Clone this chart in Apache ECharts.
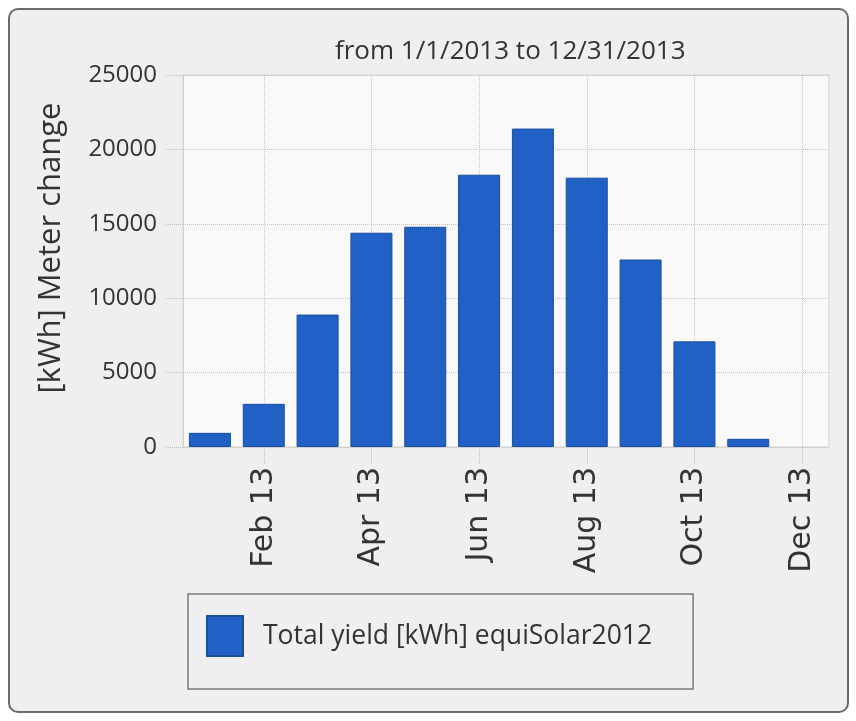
<!DOCTYPE html>
<html>
<head>
<meta charset="utf-8">
<script src="https://cdn.jsdelivr.net/npm/echarts@6/dist/echarts.min.js"></script>
<style>
  html, body { margin: 0; padding: 0; background: #fff; }
  .panel {
    position: absolute; left: 8px; top: 8px; width: 841px; height: 705px;
    box-sizing: border-box; border: 2px solid #6a6a6a; border-radius: 10px;
    background: #efefef;
  }
  #chart { position: absolute; left: 0; top: 0; width: 856px; height: 721px; }
</style>
</head>
<body>
<div class="panel"></div>
<div id="chart"></div>
<script>
const months = ['Jan 13', 'Feb 13', 'Mar 13', 'Apr 13', 'May 13', 'Jun 13',
  'Jul 13', 'Aug 13', 'Sep 13', 'Oct 13', 'Nov 13', 'Dec 13'];
// Dec 13 has no bar in the source chart
const totalYield = [950, 2900, 8900, 14400, 14800, 18300, 21400, 18100, 12600, 7100, 550, null];
const seriesName = 'Total yield [kWh] equiSolar2012';
const titleText = 'from 1/1/2013 to 12/31/2013';
const yAxisName = '[kWh] Meter change';

const textColor = '#333';
const gridLine = '#c4c4c4';
const everyOther = (index) => index % 2 === 1;

const chart = echarts.init(document.getElementById('chart'));

chart.setOption({
  animation: false,
  title: {
    text: titleText,
    left: 330,
    top: 34,
    textStyle: { fontFamily: 'Open Sans', fontSize: 26, fontWeight: 'normal', color: textColor },
  },
  legend: {
    data: [seriesName],
    left: 188,
    top: 594,
    orient: 'horizontal',
    padding: [21, 41, 32, 18],
    borderColor: '#7a7a7a',
    borderWidth: 1.5,
    itemWidth: 36,
    itemHeight: 40,
    icon: 'rect',
    selectedMode: false,
    textStyle: { fontFamily: 'Open Sans', fontSize: 26.5, color: textColor, padding: [0, 0, 0, 15] },
  },
  grid: {
    show: true,
    left: 183,
    right: 27,
    top: 75,
    bottom: 274,
    backgroundColor: '#f9f9f9',
    borderColor: '#d2d2d2',
    borderWidth: 1,
  },
  xAxis: {
    type: 'category',
    data: months,
    axisLine: { lineStyle: { color: '#d2d2d2' } },
    axisTick: {
      show: true,
      alignWithLabel: true,
      interval: everyOther,
      length: 18,
      lineStyle: { color: '#bbb', type: 'dotted' },
    },
    axisLabel: {
      interval: everyOther,
      rotate: 90,
      margin: 20,
      fontFamily: 'DejaVu Sans',
      fontSize: 30,
      color: textColor,
    },
    splitLine: {
      show: true,
      alignWithLabel: true,
      interval: everyOther,
      lineStyle: { color: gridLine, type: 'dotted' },
    },
  },
  yAxis: {
    type: 'value',
    min: 0,
    max: 25000,
    interval: 5000,
    name: yAxisName,
    nameLocation: 'middle',
    nameRotate: 90,
    nameGap: 116,
    nameTextStyle: { fontFamily: 'Open Sans', fontSize: 31, color: textColor, padding: [0, 0, 0, 26] },
    axisLine: { show: true, lineStyle: { color: '#d2d2d2' } },
    axisTick: { show: true, length: 18, lineStyle: { color: '#bbb', type: 'dotted' } },
    axisLabel: {
      margin: 26,
      fontFamily: 'Open Sans',
      fontSize: 24,
      color: textColor,
      formatter: (value) => String(value),
    },
    splitLine: { lineStyle: { color: gridLine, type: 'dotted' } },
  },
  series: [
    {
      name: seriesName,
      type: 'bar',
      data: totalYield,
      barCategoryGap: '22%',
      itemStyle: { color: '#2160c4', borderColor: '#1a4d9e', borderWidth: 1 },
    },
  ],
});
</script>
</body>
</html>
